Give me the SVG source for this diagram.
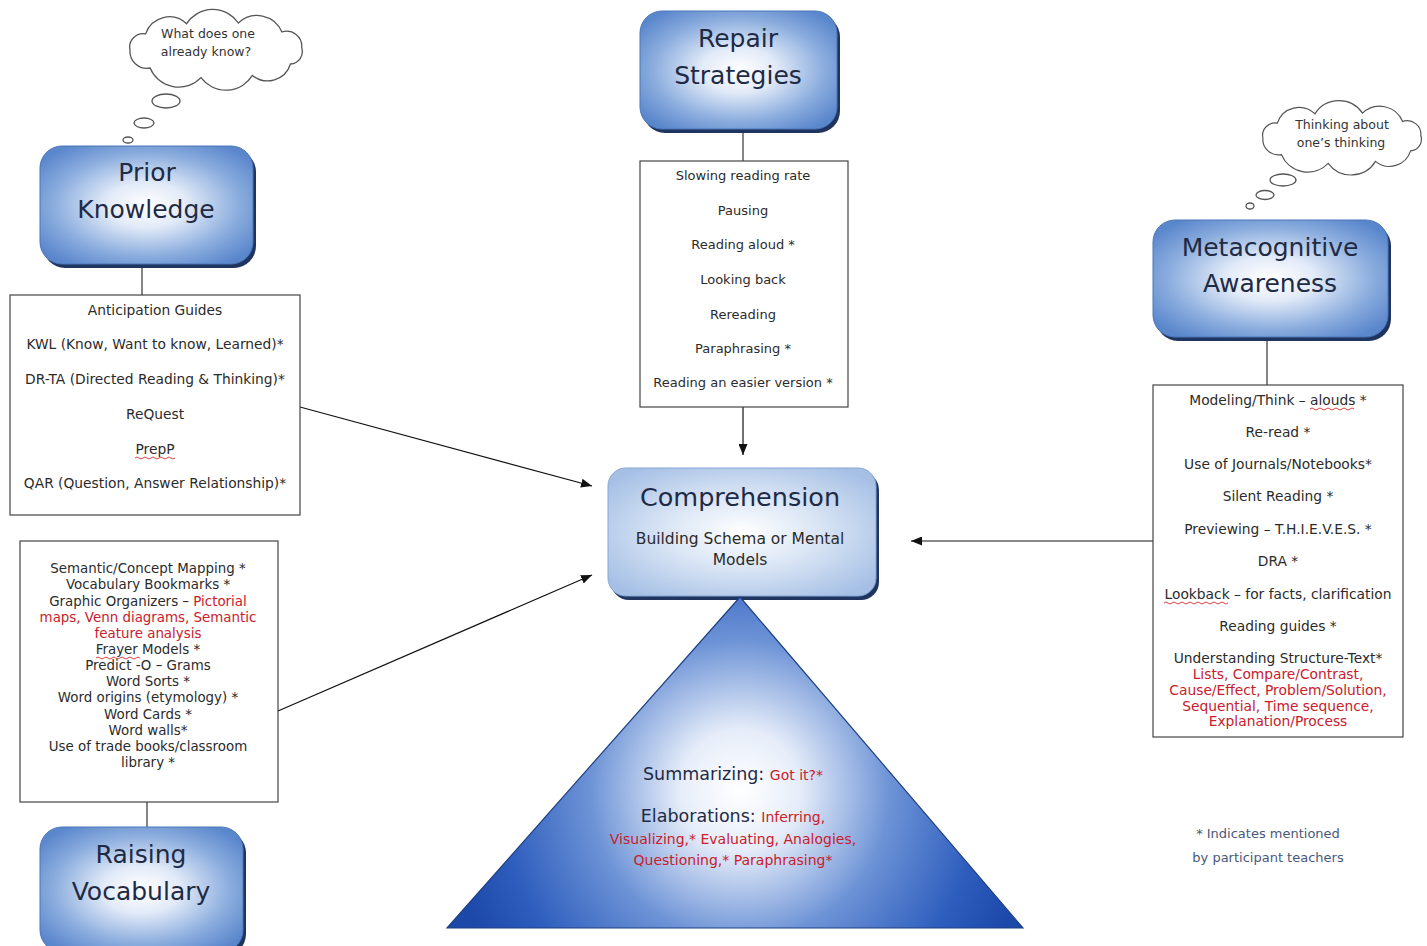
<svg xmlns="http://www.w3.org/2000/svg" width="1427" height="946" viewBox="0 0 1427 946">
<defs>
<style>
.title{font-family:"DejaVu Sans","Liberation Sans",sans-serif;font-size:25px;fill:#1f2b45;text-anchor:middle}
.li{font-family:"DejaVu Sans","Liberation Sans",sans-serif;font-size:13px;fill:#2b2b2b;text-anchor:middle}
.l1{font-size:13.8px}
.l2{font-size:13.4px}
.red{fill:#c8202c}
.box{fill:#ffffff;stroke:#444;stroke-width:1.2}
.node{fill:url(#nodeGrad);stroke:#4a76b8;stroke-width:1}
.shadow{fill:#1f3560}
.cloud{fill:#ffffff;stroke:#555;stroke-width:1.3}
.ct{font-family:"DejaVu Sans","Liberation Sans",sans-serif;font-size:12.5px;fill:#333;text-anchor:middle}
.conn{stroke:#111;stroke-width:1.2;fill:none}
.stem{stroke:#666;stroke-width:1.6;fill:none}
.squig{stroke:#d03030;stroke-width:0.9;fill:none}
.tri{font-size:17.5px;fill:#1f2b45}
.trr{font-size:14px}
</style>
<radialGradient id="nodeGrad" cx="50%" cy="50%" r="62%">
<stop offset="0" stop-color="#ffffff"/>
<stop offset="0.3" stop-color="#e3ebf8"/>
<stop offset="0.7" stop-color="#8badde"/>
<stop offset="1" stop-color="#5a86cc"/>
</radialGradient>
<radialGradient id="compGrad" cx="50%" cy="50%" r="62%">
<stop offset="0" stop-color="#ffffff"/>
<stop offset="0.45" stop-color="#dbe6f5"/>
<stop offset="1" stop-color="#a6c0e5"/>
</radialGradient>
<radialGradient id="triGrad" gradientUnits="userSpaceOnUse" cx="740" cy="790" r="300">
<stop offset="0" stop-color="#ffffff"/>
<stop offset="0.2" stop-color="#e6edf9"/>
<stop offset="0.5" stop-color="#6d93d6"/>
<stop offset="0.8" stop-color="#2d5dbd"/>
<stop offset="1" stop-color="#1c48a8"/>
</radialGradient>
<path id="cloudShape" d="M-86,0 A13.5,13.5 0 0 1 -70.4,-16.1 A25,25 0 0 1 -29.4,-26.3 A31,31 0 0 1 22.3,-27 A27,27 0 0 1 65.9,-18 A15,15 0 0 1 85.7,-2.4 A12.5,12.5 0 0 1 74.5,14 A24,24 0 0 1 36.4,25.4 A31,31 0 0 1 -15,27.6 A31,31 0 0 1 -65.9,18 A17,17 0 0 1 -86,0 Z"/>
<marker id="arrow" markerWidth="11" markerHeight="9" refX="11" refY="4.5" orient="auto" markerUnits="userSpaceOnUse">
<path d="M0,0 L11,4.5 L0,9 Z" fill="#111"/>
</marker>
</defs>
<rect width="1427" height="946" fill="#ffffff"/>

<g id="connectors">
<line class="stem" x1="142" y1="265" x2="142" y2="295"/>
<line class="stem" x1="743" y1="130" x2="743" y2="161"/>
<line class="stem" x1="1267" y1="338" x2="1267" y2="385"/>
<line class="stem" x1="147" y1="802" x2="147" y2="827"/>
<line class="conn" x1="300" y1="407" x2="592" y2="486" marker-end="url(#arrow)"/>
<line class="conn" x1="278" y1="711" x2="592" y2="575" marker-end="url(#arrow)"/>
<line class="conn" x1="743" y1="407" x2="743" y2="455" marker-end="url(#arrow)"/>
<line class="conn" x1="1153" y1="541" x2="911" y2="541" marker-end="url(#arrow)"/>
</g>

<g id="cloud-prior">
<use href="#cloudShape" class="cloud" transform="translate(216,50)"/>
<ellipse class="cloud" cx="166" cy="101" rx="14" ry="7"/>
<ellipse class="cloud" cx="144" cy="123" rx="10" ry="5"/>
<ellipse class="cloud" cx="128" cy="140" rx="5" ry="3"/>
<text class="ct" x="208" y="38">What does one</text>
<text class="ct" x="206" y="56">already know?</text>
</g>

<g id="cloud-meta">
<use href="#cloudShape" class="cloud" transform="translate(1342,138) scale(0.92)"/>
<ellipse class="cloud" cx="1283" cy="180" rx="13" ry="6"/>
<ellipse class="cloud" cx="1265" cy="195" rx="9" ry="4.5"/>
<ellipse class="cloud" cx="1250" cy="206" rx="4" ry="3"/>
<text class="ct" x="1342" y="129">Thinking about</text>
<text class="ct" x="1341" y="147">one’s thinking</text>
</g>

<g id="prior-knowledge">
<rect class="shadow" x="43" y="150" width="213" height="118" rx="22"/>
<rect class="node" x="40" y="146" width="213" height="118" rx="22"/>
<text class="title" x="147" y="181">Prior</text>
<text class="title" x="146" y="218">Knowledge</text>
</g>

<g id="prior-list">
<rect class="box" x="10" y="295" width="290" height="220"/>
<text class="li l1" x="155" y="315">Anticipation Guides</text>
<text class="li l1" x="155" y="349">KWL (Know, Want to know, Learned)*</text>
<text class="li l1" x="155" y="384">DR-TA (Directed Reading &amp; Thinking)*</text>
<text class="li l1" x="155" y="419">ReQuest</text>
<text class="li l1" x="155" y="454">PrepP</text>
<path class="squig" d="M135,458 q2,-2 4,0 t4,0 t4,0 t4,0 t4,0 t4,0 t4,0 t4,0 t4,0 t4,0"/>
<text class="li l1" x="155" y="488">QAR (Question, Answer Relationship)*</text>
</g>

<g id="vocab-list">
<rect class="box" x="20" y="541" width="258" height="261"/>
<text class="li l2" x="148" y="573">Semantic/Concept Mapping *</text>
<text class="li l2" x="148" y="589">Vocabulary Bookmarks *</text>
<text class="li l2" x="148" y="606">Graphic Organizers – <tspan class="red">Pictorial</tspan></text>
<text class="li l2 red" x="148" y="622">maps, Venn diagrams, Semantic</text>
<text class="li l2 red" x="148" y="638">feature analysis</text>
<text class="li l2" x="148" y="654">Frayer Models *</text>
<path class="squig" d="M96,658 q2,-2 4,0 t4,0 t4,0 t4,0 t4,0 t4,0 t4,0 t4,0 t4,0 t4,0 t4,0"/>
<text class="li l2" x="148" y="670">Predict -O – Grams</text>
<text class="li l2" x="148" y="686">Word Sorts *</text>
<text class="li l2" x="148" y="702">Word origins (etymology) *</text>
<text class="li l2" x="148" y="719">Word Cards *</text>
<text class="li l2" x="148" y="735">Word walls*</text>
<text class="li l2" x="148" y="751">Use of trade books/classroom</text>
<text class="li l2" x="148" y="767">library *</text>
</g>

<g id="raising-vocabulary">
<rect class="shadow" x="43" y="831" width="203" height="125" rx="22"/>
<rect class="node" x="40" y="827" width="203" height="125" rx="22"/>
<text class="title" x="141" y="863">Raising</text>
<text class="title" x="141" y="900">Vocabulary</text>
</g>

<g id="repair-strategies">
<rect class="shadow" x="643" y="15" width="197" height="118" rx="22"/>
<rect class="node" x="640" y="11" width="197" height="118" rx="22"/>
<text class="title" x="738" y="47">Repair</text>
<text class="title" x="738" y="84">Strategies</text>
</g>

<g id="repair-list">
<rect class="box" x="640" y="161" width="208" height="246"/>
<text class="li" x="743" y="180">Slowing reading rate</text>
<text class="li" x="743" y="215">Pausing</text>
<text class="li" x="743" y="249">Reading aloud *</text>
<text class="li" x="743" y="284">Looking back</text>
<text class="li" x="743" y="319">Rereading</text>
<text class="li" x="743" y="353">Paraphrasing *</text>
<text class="li" x="743" y="387">Reading an easier version *</text>
</g>

<g id="metacognitive-awareness">
<rect class="shadow" x="1156" y="224" width="235" height="117" rx="22"/>
<rect class="node" x="1153" y="220" width="235" height="117" rx="22"/>
<text class="title" x="1270" y="256">Metacognitive</text>
<text class="title" x="1270" y="292">Awareness</text>
</g>

<g id="meta-list">
<rect class="box" x="1153" y="385" width="250" height="352"/>
<text class="li l1" x="1278" y="405">Modeling/Think – alouds *</text>
<path class="squig" d="M1310,409 q2,-2 4,0 t4,0 t4,0 t4,0 t4,0 t4,0 t4,0 t4,0 t4,0 t4,0 t4,0"/>
<text class="li l1" x="1278" y="437">Re-read *</text>
<text class="li l1" x="1278" y="469">Use of Journals/Notebooks*</text>
<text class="li l1" x="1278" y="501">Silent Reading *</text>
<text class="li l1" x="1278" y="534">Previewing – T.H.I.E.V.E.S. *</text>
<text class="li l1" x="1278" y="566">DRA *</text>
<text class="li l1" x="1278" y="599">Lookback – for facts, clarification</text>
<path class="squig" d="M1164,603 q2,-2 4,0 t4,0 t4,0 t4,0 t4,0 t4,0 t4,0 t4,0 t4,0 t4,0 t4,0 t4,0 t4,0 t4,0 t4,0 t4,0"/>
<text class="li l1" x="1278" y="631">Reading guides *</text>
<text class="li l1" x="1278" y="663">Understanding Structure-Text*</text>
<text class="li l1 red" x="1278" y="679">Lists, Compare/Contrast,</text>
<text class="li l1 red" x="1278" y="695">Cause/Effect, Problem/Solution,</text>
<text class="li l1 red" x="1278" y="711">Sequential, Time sequence,</text>
<text class="li l1 red" x="1278" y="726">Explanation/Process</text>
</g>

<g id="comprehension">
<rect class="shadow" x="611" y="472" width="268" height="128" rx="18"/>
<rect x="608" y="468" width="268" height="128" rx="18" fill="url(#compGrad)" stroke="#86a6d4" stroke-width="1"/>
<text class="title" x="740" y="506" style="font-size:25.5px">Comprehension</text>
<text class="li" x="740" y="544" style="font-size:15.5px">Building Schema or Mental</text>
<text class="li" x="740" y="565" style="font-size:15.5px">Models</text>
</g>

<g id="triangle">
<polygon points="740,597 1023,928 447,928" fill="url(#triGrad)" stroke="#1e3f80" stroke-width="1.2"/>
<text class="li tri" x="733" y="780">Summarizing: <tspan class="red trr">Got it?*</tspan></text>
<text class="li tri" x="733" y="822">Elaborations: <tspan class="red trr">Inferring,</tspan></text>
<text class="li red trr" x="733" y="844">Visualizing,* Evaluating, Analogies,</text>
<text class="li red trr" x="733" y="865">Questioning,* Paraphrasing*</text>
</g>

<g id="footnote">
<text class="li" x="1268" y="838" style="fill:#4a5878">* Indicates mentioned</text>
<text class="li" x="1268" y="862" style="fill:#4a5878">by participant teachers</text>
</g>
</svg>
